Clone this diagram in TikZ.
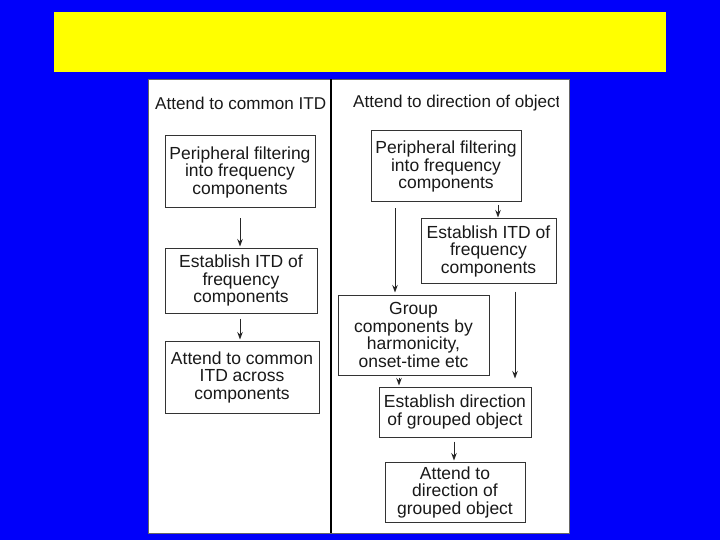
\documentclass[tikz,border=0pt]{standalone}
\usepackage{fontspec}
\setmainfont{Liberation Sans}
\usetikzlibrary{arrows.meta}
\definecolor{bgblue}{RGB}{0,0,250}
\definecolor{bandyellow}{RGB}{255,255,0}
\begin{document}
\begin{tikzpicture}[x=1pt,y=-1pt,
  box/.style={draw=black!80, line width=1pt, rectangle, inner sep=0pt, align=center,
    font=\fontsize{17.5}{17.5}\selectfont, text=black!90},
  arr/.style={draw=black!85, line width=0.9pt, -{Stealth[length=7.5pt,width=5.5pt]}},
  ttl/.style={font=\fontsize{17.1}{20}\selectfont, inner sep=0pt, text=black!90}]
\useasboundingbox (0,0) rectangle (720,540);
\fill[bgblue] (0,0) rectangle (720,540);
\fill[bandyellow] (54,12) rectangle (666,72);
\draw[fill=white, draw=black!60, line width=0.8pt] (148,79) rectangle (569,533);
\draw[line width=1.2pt] (331,79) -- (331,533);
% titles
\node[ttl, anchor=west] (T1) at (155,103) {Attend to common ITD};
\begin{scope}
  \clip (331,79) rectangle (558,533);
  \node[ttl, anchor=west] (T2) at (353,103) {Attend to direction of object};
\end{scope}
% left column
\node[box, minimum width=150pt, minimum height=72pt] (L1) at (240,172) {Peripheral filtering\\into frequency\\components};
\node[box, minimum width=152pt, minimum height=65pt] (L2) at (241,280.5) {Establish ITD of\\frequency\\components};
\node[box, minimum width=154pt, minimum height=72pt] (L3) at (242,377) {Attend to common\\ITD across\\components};
% right column
\node[box, minimum width=150pt, minimum height=71pt] (R1) at (446,166.5) {Peripheral filtering\\into frequency\\components};
\node[box, minimum width=135pt, minimum height=64pt] (R2) at (488.5,251) {Establish ITD of\\frequency\\components};
\node[box, minimum width=151pt, minimum height=80pt] (R3) at (413.5,335) {Group\\components by\\harmonicity,\\onset-time etc};
\node[box, minimum width=152pt, minimum height=50pt] (R4) at (455,412) {Establish direction\\of grouped object};
\node[box, minimum width=140pt, minimum height=60pt] (R5) at (455,492) {Attend to\\direction of\\grouped object};
% arrow x positions
\coordinate (xl) at (240,0);
\coordinate (xa) at (395,0);
\coordinate (xb) at (498,0);
\coordinate (xc) at (515,0);
\coordinate (xd) at (399,0);
\coordinate (xe) at (454,0);
% connectors
\draw[arr, shorten <=10pt, shorten >=1pt] (L1.south -| xl) -- (L2.north -| xl);
\draw[arr, shorten <=5pt, shorten >=1pt] (L2.south -| xl) -- (L3.north -| xl);
\draw[arr, shorten <=6pt, shorten >=2pt] (R1.south -| xa) -- (R3.north -| xa);
\draw[arr, shorten <=3pt, shorten >=1pt] (R1.south -| xb) -- (R2.north -| xb);
\draw[arr, shorten <=8pt, shorten >=8pt] (R2.south -| xc) -- (R4.north -| xc);
\draw[arr, shorten <=2pt, shorten >=1pt] (R3.south -| xd) -- (R4.north -| xd);
\draw[arr, shorten <=4pt, shorten >=1pt] (R4.south -| xe) -- (R5.north -| xe);
\end{tikzpicture}
\end{document}
